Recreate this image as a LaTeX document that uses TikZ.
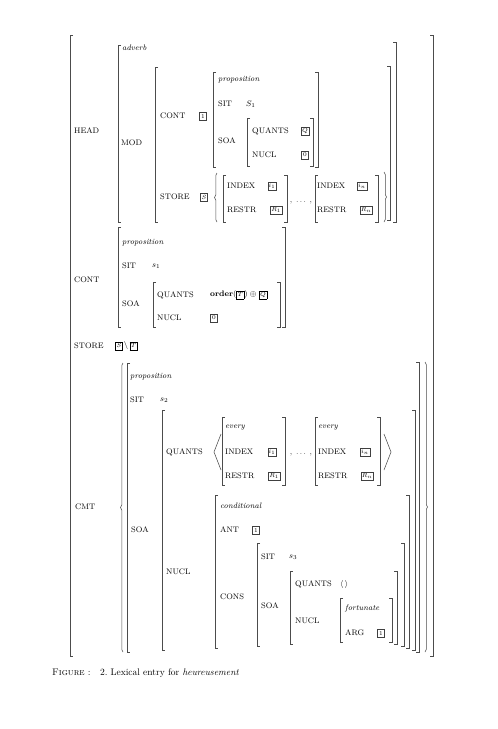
\documentclass[tikz,border=0pt]{standalone}
\usepackage{amsmath}
\usepackage{amssymb}
\usetikzlibrary{decorations.pathreplacing}
\newcommand{\boxtag}[1]{{\setlength{\fboxsep}{0.9pt}\setlength{\fboxrule}{0.4pt}\fbox{\fontsize{6}{7}\selectfont\vphantom{Q}#1}}}

\begin{document}
\begin{tikzpicture}[x=1pt, y=-1pt,
    every node/.style={font=\fontsize{8}{9.6}\selectfont, inner sep=0pt},
    feat/.style={anchor=west},
    sortname/.style={anchor=west, font=\fontsize{8}{9.6}\selectfont\itshape},
    tagbox/.style={draw=black!75, line width=0.4pt, minimum width=7pt, minimum height=7.5pt, inner xsep=1pt, font=\fontsize{6}{7}\selectfont},
    brk/.style={draw=black!70, line width=0.55pt},
    brc/.style={draw=black!70, line width=0.5pt, decorate, decoration={brace, amplitude=2.5pt}}]
    \useasboundingbox (0,0) rectangle (498,729);
    % left and right brackets: x/top/bottom
    \foreach \x/\t/\b in {70/35/656, 118/45/222, 155/67/222, 213/72/167, 247/118/166,
        223/175/222, 315/175/222, 118/227/327, 153/282/327, 127/363/652, 162/410/650,
        222/417/485, 315/417/485, 215/495/648, 257/543/646, 290/571/644, 340/598/642} {
        \draw[brk] (\x+3,\t) -- (\x,\t) -- (\x,\b) -- (\x+3,\b);
    }
    \foreach \x/\t/\b in {433/35/656, 396/42/222, 390/66/220, 318/72/167, 313/118/166,
        287/175/222, 378/175/222, 285/227/327, 280/282/327, 419/362/652, 415/410/650,
        285/417/485, 380/417/485, 409/495/648, 404/543/646, 397/571/644, 392/598/642} {
        \draw[brk] (\x-3,\t) -- (\x,\t) -- (\x,\b) -- (\x-3,\b);
    }
    % HEAD
    \node[feat] (head) at (74,131) {HEAD};
    \node[sortname] (adv) at (122,48) {adverb};
    \node[feat] (mod) at (121,143) {MOD};
    \node[feat] (modcont) at (160,116) {CONT};
    \node[tagbox] (t1a) at (203,116) {1};
    \node[sortname] (prop1) at (218,80) {proposition};
    \node[feat] (sit1) at (218,104) {SIT};
    \node[feat] (sitv1) at (246,104) {$S_1$};
    \node[feat] (soa1) at (218,141) {SOA};
    \node[feat] (qu1) at (252,131) {QUANTS};
    \node[tagbox] (tq) at (305,131) {$Q$};
    \node[feat] (nu1) at (252,155) {NUCL};
    \node[tagbox] (t0a) at (305,155) {0};
    \node[feat] (store1) at (160,197) {STORE};
    \node[tagbox] (ts) at (204,197) {$S$};
    \foreach \x/\k/\n in {227/a/1, 317/b/n} {
        \node[feat] (idx\k) at (\x,186) {INDEX};
        \node[tagbox] (ti\k) at (\x+45,186) {$i_\n$};
        \node[feat] (res\k) at (\x,210) {RESTR};
        \node[tagbox] (tr\k) at (\x+49,210) {$R_\n$};
    }
    \node (dots1) at (301,203) {$,\;\ldots\;,$};
    \draw[brc] (217,222) -- (217,173);
    \draw[brc] (384,172) -- (384,222);
    % CONT
    \node[feat] (cont) at (74,280) {CONT};
    \node[sortname] (prop2) at (122,243) {proposition};
    \node[feat] (sit2) at (122,266) {SIT};
    \node[feat] (sitv2) at (152,266) {$s_1$};
    \node[feat] (soa2) at (122,304) {SOA};
    \node[feat] (qu2) at (157,295) {QUANTS};
    \node[feat] (ord) at (210,295) {\textbf{order}(\boxtag{$T$})\;$\oplus$\;\boxtag{$Q$}};
    \node[feat] (nu2) at (157,318) {NUCL};
    \node[tagbox] (t0b) at (214,318) {0};
    % STORE
    \node[feat] (store2) at (74,346) {STORE};
    \node[feat] (stv) at (115,346) {\boxtag{$S$}\,$\backslash$\,\boxtag{$T$}};
    % CMT
    \node[feat] (cmt) at (75,507) {CMT};
    \draw[brc] (123,652) -- (123,363);
    \draw[brc] (425,362) -- (425,652);
    \node[sortname] (prop3) at (130,377) {proposition};
    \node[feat] (sit3) at (130,400) {SIT};
    \node[feat] (sitv3) at (160,400) {$s_2$};
    \node[feat] (soa3) at (131,530) {SOA};
    \node[feat] (qu3) at (166,452) {QUANTS};
    \foreach \x/\k/\n in {225/c/1, 318/d/n} {
        \node[sortname] (ev\k) at (\x,428) {every};
        \node[feat] (idx\k) at (\x,452) {INDEX};
        \node[tagbox] (ti\k) at (\x+47,452) {$i_\n$};
        \node[feat] (res\k) at (\x,476) {RESTR};
        \node[tagbox] (tr\k) at (\x+49,476) {$R_\n$};
    }
    \node (dots2) at (301,455) {$,\;\ldots\;,$};
    \draw[brk] (221,434) -- (214,452) -- (221,470);
    \draw[brk] (384,434) -- (391,452) -- (384,470);
    \node[feat] (nu3) at (166,572) {NUCL};
    \node[sortname] (cond) at (220,506) {conditional};
    \node[feat] (ant) at (220,530) {ANT};
    \node[tagbox] (t1b) at (256,530) {1};
    \node[feat] (cons) at (220,597) {CONS};
    \node[feat] (sit4) at (261,557) {SIT};
    \node[feat] (sitv4) at (289,557) {$s_3$};
    \node[feat] (soa4) at (261,606) {SOA};
    \node[feat] (qu4) at (295,584) {QUANTS};
    \node[feat] (empt) at (340,584) {$\langle\,\rangle$};
    \node[feat] (nu4) at (295,621) {NUCL};
    \node[sortname] (fort) at (345,608) {fortunate};
    \node[feat] (arg) at (345,633) {ARG};
    \node[tagbox] (t1c) at (381,633) {1};
    % caption
    \node[anchor=base west, font=\fontsize{9.5}{11}\selectfont] (cap) at (52,675)
        {\textsc{Figure}\ :\quad 2.\ Lexical entry for \textit{heureusement}};
\end{tikzpicture}
\end{document}
